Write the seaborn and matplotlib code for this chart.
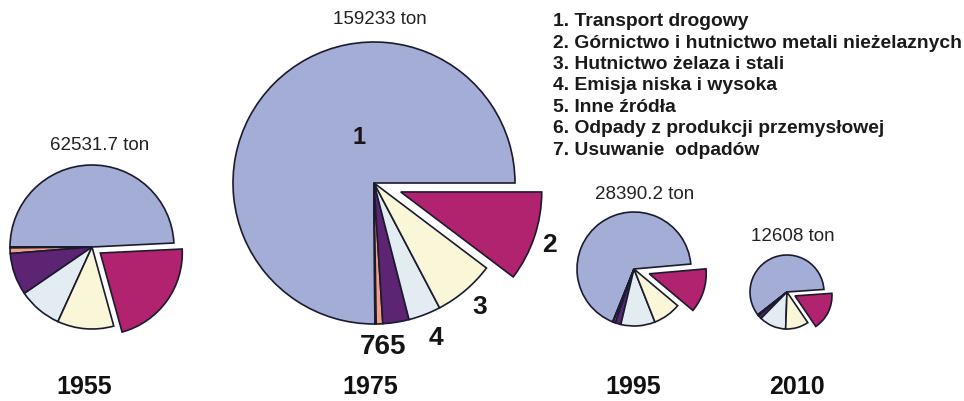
import matplotlib
matplotlib.use("Agg")
import matplotlib.pyplot as plt
import seaborn as sns

# ------- DATA ---------
years = ["1955", "1975", "1995", "2010"]
totals = [62531.7, 159233, 28390.2, 12608]
sources = [
    "1. Transport drogowy",
    "2. Górnictwo i hutnictwo metali nieżelaznych",
    "3. Hutnictwo żelaza i stali",
    "4. Emisja niska i wysoka",
    "5. Inne źródła",
    "6. Odpady z produkcji przemysłowej",
    "7. Usuwanie  odpadów",
]
# shares [%] of sources 1..7
shares_1955 = [49.2, 21.5, 11.1, 8.6, 8.3, 1.1, 0.2]
shares_1975 = [75.1, 10.3, 7.0, 3.7, 3.0, 0.75, 0.15]
shares_1995 = [67.5, 12.5, 7.9, 9.7, 1.6, 0.6, 0.2]
shares_2010 = [59.0, 16.5, 10.0, 11.7, 1.5, 0.4, 0.2]
shares = [shares_1955, shares_1975, shares_1995, shares_2010]

# ------- STYLE / LAYOUT ---------
src_colors = ["#A4ADD6", "#B1226F", "#FAF6D8", "#E3ECF0", "#5C2472", "#F2A184", "#2B2B5A"]
W, H = 964, 402
pie_centers = [(92, 248), (374, 184), (634, 270), (787, 293)]   # image px
pie_radius = [82, 141, 57, 37]
start_angles = [2.8, 0, 5, 4]
explode_2 = [0.125, 0.2, 0.28, 0.24]   # fraction of radius
total_pos = [(100, 146), (380, 20), (645, 195), (793, 237)]
year_x = [84, 370, 633, 797]
order = [0, 6, 5, 4, 3, 2, 1]  # counterclockwise from blue

sns.set_theme(style="white")
plt.rcParams["font.family"] = ["Liberation Sans", "DejaVu Sans"]

fig = plt.figure(figsize=(W / 100, H / 100), dpi=100)
ax = fig.add_axes([0, 0, 1, 1])

for i in range(len(years)):
    cx, cy = pie_centers[i]
    r = pie_radius[i]
    vals = [shares[i][k] for k in order]
    cols = [src_colors[k] for k in order]
    # matplotlib's explode offset is absolute, so scale by the radius
    expl = [explode_2[i] * r if k == 1 else 0 for k in order]
    ax.pie(vals, colors=cols, explode=expl, startangle=start_angles[i],
           counterclock=True, center=(cx, H - cy), radius=r,
           wedgeprops=dict(edgecolor="#1b1b30", linewidth=1.2))
    tx, ty = total_pos[i]
    ax.text(tx, H - ty, f"{totals[i]:g} ton", ha="center", va="center",
            fontsize=13.5, color="#222222")
    ax.text(year_x[i], H - 387, years[i], ha="center", va="center",
            fontsize=18, fontweight="bold", color="#111111")

# slice numbers on the 1975 pie
num_labels = ["1", "2", "3", "4", "765"]
num_pos = [(359, 137), (549, 245), (480, 307), (436, 338), (383, 347)]
num_size = [17, 19, 19, 19, 20]
for lab, (x, y), fs in zip(num_labels, num_pos, num_size):
    ax.text(x, H - y, lab, ha="center", va="center", fontsize=fs,
            fontweight="bold", color="#151515")

# legend as text lines
for j, s in enumerate(sources):
    ax.text(553, H - (21.7 + j * 21.4), s, ha="left", va="center",
            fontsize=13.9, fontweight="bold", color="#1a1a1a")

ax.set_xlim(0, W)
ax.set_ylim(0, H)
ax.set_aspect("equal")
ax.axis("off")
fig.savefig("out.png", dpi=100, facecolor="white")
